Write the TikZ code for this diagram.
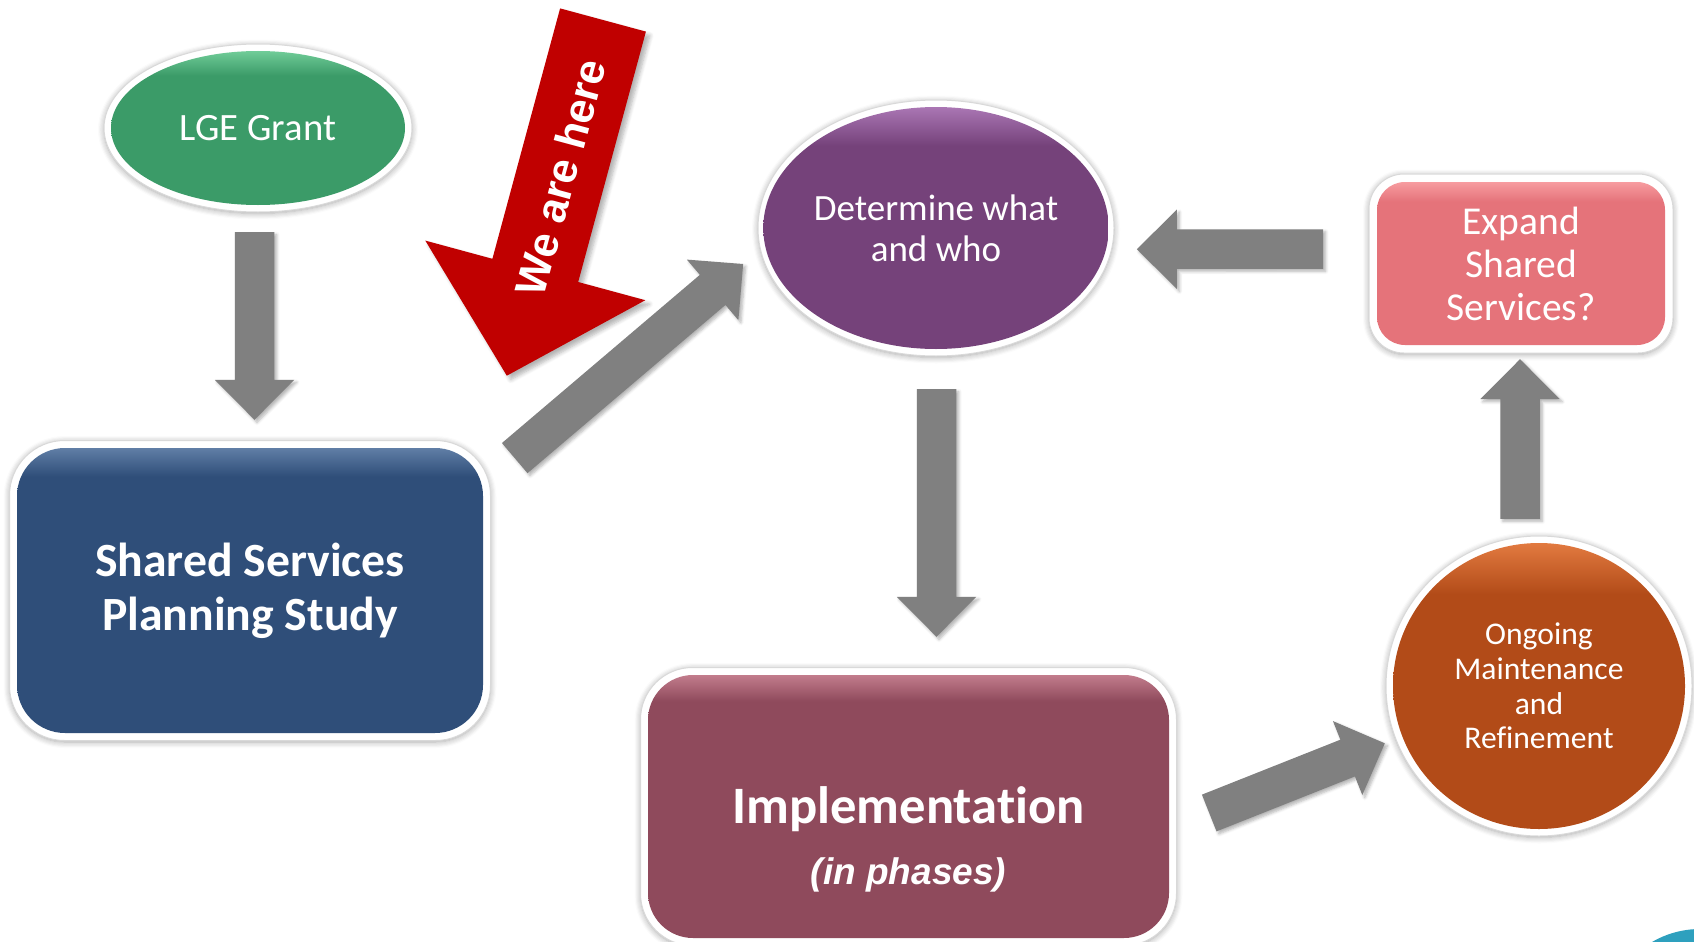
\documentclass[tikz,border=0pt]{standalone}
\usepackage{fontspec}
\setmainfont{Carlito}[Ligatures=NoCommon]
\newfontfamily\arialfont{Liberation Sans}
\usetikzlibrary{shapes.geometric,calc,shadows.blur}

% palette
\definecolor{grantG}{RGB}{59,155,104}
\definecolor{grantGl}{RGB}{112,204,152}
\definecolor{studyB}{RGB}{47,78,121}
\definecolor{studyBl}{RGB}{96,126,166}
\definecolor{whatP}{RGB}{117,66,122}
\definecolor{whatPl}{RGB}{170,118,180}
\definecolor{expandR}{RGB}{229,115,122}
\definecolor{expandRl}{RGB}{247,156,160}
\definecolor{implM}{RGB}{143,74,92}
\definecolor{implMl}{RGB}{194,124,140}
\definecolor{ongoingO}{RGB}{178,75,24}
\definecolor{ongoingOl}{RGB}{226,122,64}
\definecolor{hereRed}{RGB}{192,0,0}
\definecolor{arrowgray}{RGB}{128,128,128}
\definecolor{cornerteal}{RGB}{46,160,190}

% vertical fills with a light band along the top edge
\pgfdeclareverticalshading{grantshade}{100bp}{color(0bp)=(grantG); color(67bp)=(grantG); color(75bp)=(grantGl); color(100bp)=(grantGl)}
\pgfdeclareverticalshading{studyshade}{100bp}{color(0bp)=(studyB); color(70bp)=(studyB); color(75bp)=(studyBl); color(100bp)=(studyBl)}
\pgfdeclareverticalshading{whatshade}{100bp}{color(0bp)=(whatP); color(67bp)=(whatP); color(75bp)=(whatPl); color(100bp)=(whatPl)}
\pgfdeclareverticalshading{expandshade}{100bp}{color(0bp)=(expandR); color(69bp)=(expandR); color(75bp)=(expandRl); color(100bp)=(expandRl)}
\pgfdeclareverticalshading{implshade}{100bp}{color(0bp)=(implM); color(70bp)=(implM); color(75bp)=(implMl); color(100bp)=(implMl)}
\pgfdeclareverticalshading{ongoingshade}{100bp}{color(0bp)=(ongoingO); color(66bp)=(ongoingO); color(75bp)=(ongoingOl); color(100bp)=(ongoingOl)}

% block arrow from coordinate #1 (tail centre) to coordinate #2 (tip)
\newcommand\blockarrow[2]{%
  \coordinate (#1-#2-b) at ($(#2)!40pt!(#1)$);
  \fill[grayarrow]
    ($(#1)!19.75pt!90:(#2)$) -- ($(#1-#2-b)!19.75pt!90:(#2)$) --
    ($(#1-#2-b)!39.75pt!90:(#2)$) -- (#2) --
    ($(#1-#2-b)!39.75pt!-90:(#2)$) -- ($(#1-#2-b)!19.75pt!-90:(#2)$) --
    ($(#1)!19.75pt!-90:(#2)$) -- cycle;}

\begin{document}
\begin{tikzpicture}[x=1pt,y=-1pt,
  stage/.style={inner sep=0pt, text=white, align=center},
  rim/.style={fill=white, draw=black!15, line width=1pt,
    blur shadow={shadow xshift=0pt, shadow yshift=-1.5pt, shadow blur radius=6pt,
      shadow blur steps=6, shadow opacity=35}},
  grayarrow/.style={fill=arrowgray,
    blur shadow={shadow xshift=2.5pt, shadow yshift=-2.5pt, shadow blur radius=3pt,
      shadow blur steps=5, shadow opacity=30}},
]
\useasboundingbox (0,0) rectangle (1694,942);

% stage centres
\coordinate (lgeC) at (258,128);
\coordinate (sharedC) at (250,590.5);
\coordinate (detC) at (936,228);
\coordinate (expC) at (1521,263.5);
\coordinate (implC) at (908.5,806.5);
\coordinate (ongC) at (1539,686);

% white bevelled rims behind the stages
\path[rim] (lgeC) ellipse[x radius=154pt, y radius=84pt];
\path[rim] (detC) ellipse[x radius=178pt, y radius=128pt];
\path[rim] (ongC) ellipse[x radius=153pt, y radius=150pt];
\path[rim, rounded corners=55pt] ($(sharedC)+(-240.5,-150)$) rectangle ($(sharedC)+(240.5,150)$);
\path[rim, rounded corners=35pt] ($(expC)+(-152,-89.5)$) rectangle ($(expC)+(152,89.5)$);
\path[rim, rounded corners=52pt] ($(implC)+(-268,-139)$) rectangle ($(implC)+(268,139)$);

% stages
\node[stage, ellipse, minimum width=294pt, minimum height=154pt, shading=grantshade,
  font=\fontsize{38.7}{46}\selectfont] (lge) at (lgeC) {LGE Grant};
\node[stage, rectangle, rounded corners=48pt, minimum width=466pt, minimum height=285pt,
  shading=studyshade, font=\fontsize{47.7}{54}\selectfont\bfseries] (shared) at (sharedC)
  {Shared Services\\Planning Study};
\node[stage, ellipse, minimum width=342pt, minimum height=242pt, shading=whatshade,
  font=\fontsize{37}{41}\selectfont] (det) at (detC) {Determine what\\and who};
\node[stage, rectangle, rounded corners=28pt, minimum width=288pt, minimum height=163pt,
  shading=expandshade, font=\fontsize{39.5}{43}\selectfont] (exp) at (expC)
  {Expand\\Shared\\Services?};
\node[stage, rectangle, rounded corners=45pt, minimum width=521pt, minimum height=263pt,
  shading=implshade] (impl) at (implC) {};
\node[stage, anchor=base, font=\fontsize{52.6}{60}\selectfont\bfseries] (impltitle)
  at ($(impl.center)+(0,16.5)$) {Implementation};
\node[stage, anchor=base, font=\arialfont\bfseries\itshape\fontsize{37}{44}\selectfont] (implsub)
  at ($(impl.center)+(0,77.5)$) {(in phases)};
\node[stage, ellipse, minimum width=292pt, minimum height=286pt, shading=ongoingshade,
  font=\fontsize{31.6}{34.6}\selectfont] (ong) at (ongC)
  {Ongoing\\Maintenance\\and\\Refinement};

% connector end points
\coordinate (a1s) at ($(lge.south)+(-3.5,27)$);
\coordinate (a1e) at ($(shared.north)+(4.5,-28)$);
\coordinate (a2s) at ($(shared.north east)+(31.5,10.3)$);
\coordinate (a2e) at ($(det.west)+(-20,36)$);
\coordinate (a3s) at ($(det.south)+(0.5,40)$);
\coordinate (a3e) at ($(impl.north)+(28,-38)$);
\coordinate (a4s) at ($(impl.east)+(40,6.5)$);
\coordinate (a4e) at ($(ong.west)+(-8,57.3)$);
\coordinate (a5s) at ($(ong.north)+(-19,-24)$);
\coordinate (a5e) at ($(exp.south)+(-1,14)$);
\coordinate (a6s) at ($(exp.west)+(-53.7,-14.5)$);
\coordinate (a6e) at ($(det.east)+(28,21.3)$);

\blockarrow{a1s}{a1e}
\blockarrow{a2s}{a2e}
\blockarrow{a3s}{a3e}
\blockarrow{a4s}{a4e}
\blockarrow{a5s}{a5e}
\blockarrow{a6s}{a6e}

% "We are here" marker
\fill[hereRed, blur shadow={shadow xshift=4pt, shadow yshift=-4pt, shadow blur radius=4pt,
    shadow blur steps=6, shadow opacity=30}]
  (560.1,8.4) -- (645.9,31.6) -- (578.2,282) -- (645.3,300.2) -- (506.8,375.7)
  -- (425.3,240.6) -- (492.4,258.8) -- cycle;
\node[stage, rotate=74.9, font=\arialfont\bfseries\fontsize{43}{50}\selectfont] (here)
  at (560.5,177.3) {We are here};

% corner ornament
\begin{scope}
  \clip (0,0) rectangle (1694,942);
  \fill[cornerteal] (1700,1024) circle[radius=95pt];
\end{scope}
\end{tikzpicture}
\end{document}
